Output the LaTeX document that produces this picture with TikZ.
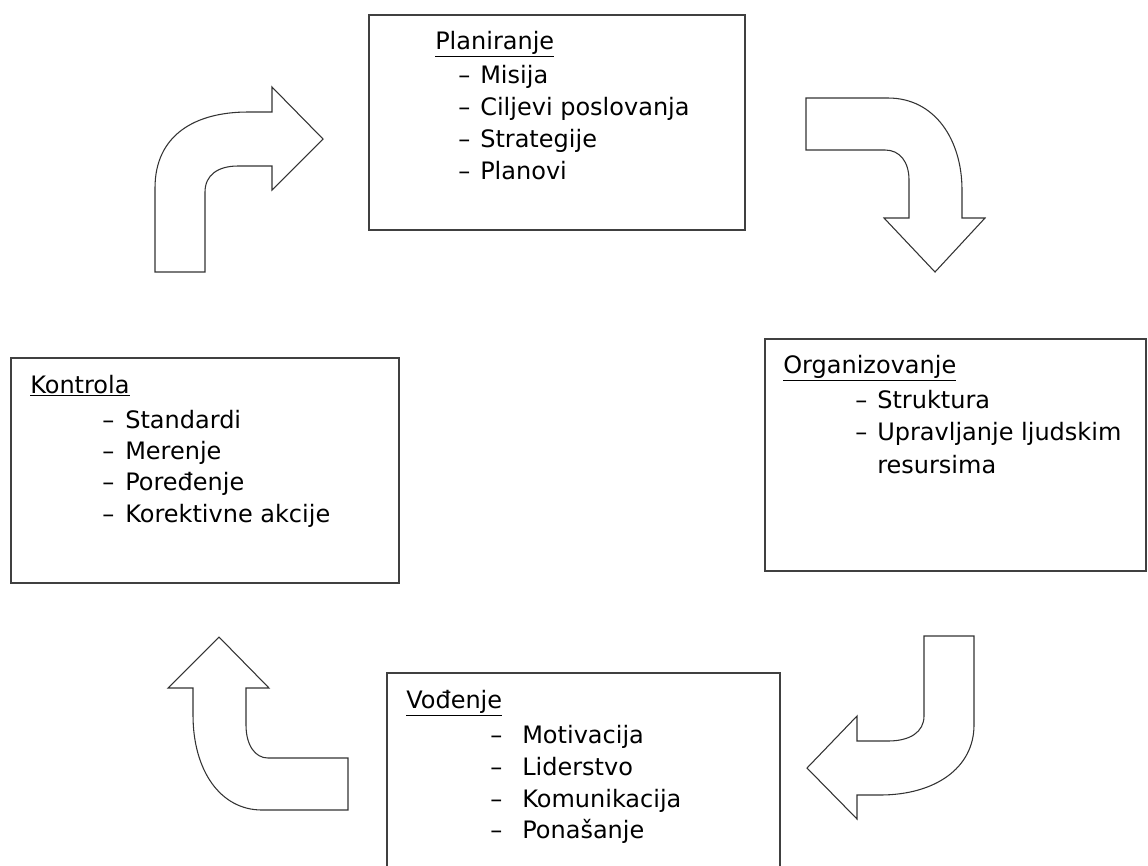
\documentclass[tikz,border=0pt]{standalone}
\usepackage{fontspec}
\setmainfont{DejaVu Sans}

\tikzset{
  box/.style={draw=black!75, line width=0.9pt},
  blockarrow/.style={draw=black!80, line width=0.8pt, fill=white, line join=miter},
  title/.style={anchor=base west, inner sep=0pt},
  item/.style={anchor=base west, inner sep=0pt},
}

\begin{document}
\begin{tikzpicture}[x=0.75pt,y=-0.75pt,font=\fontsize{18}{22}\selectfont]
		\useasboundingbox (0,0) rectangle (1148,865);

		%boxes
		\draw[box] (369,15) rectangle (745,230);
		\draw[box] (11,358) rectangle (399,583);
		\draw[box] (765,339) rectangle (1146,571);
		\draw[box] (387,866) -- (387,673) -- (780,673) -- (780,866);

		%planiranje
		\node[title] (plan) at (435,49) {\underline{Planiranje}};
		\foreach \t/\y [count=\i] in {Misija/83, Ciljevi poslovanja/115, Strategije/147, Planovi/179} {
			\node[item] (plan-d\i) at (458,\y) {--};
			\node[item] (plan-\i) at (480,\y) {\t};
		}

		%organizovanje
		\node[title] (org) at (783,373) {\underline{Organizovanje}};
		\node[item] (org-d1) at (855,408) {--};
		\node[item] (org-1) at (877,408) {Struktura};
		\node[item] (org-d2) at (855,440) {--};
		\node[item] (org-2) at (877,440) {Upravljanje ljudskim};
		\node[item] (org-3) at (877,473) {resursima};

		%vodjenje
		\node[title] (vod) at (406,708) {\underline{Vođenje}};
		\foreach \t/\y [count=\i] in {Motivacija/743, Liderstvo/775, Komunikacija/807, Ponašanje/838} {
			\node[item] (vod-d\i) at (490,\y) {--};
			\node[item] (vod-\i) at (522,\y) {\t};
		}

		%kontrola
		\node[title] (kon) at (30,393) {\underline{Kontrola}};
		\foreach \t/\y [count=\i] in {Standardi/428, Merenje/459, Poređenje/490, Korektivne akcije/522} {
			\node[item] (kon-d\i) at (102,\y) {--};
			\node[item] (kon-\i) at (125,\y) {\t};
		}

		%arrows
		\draw[blockarrow] (155,272) -- (155,188) .. controls (155,135) and (195,112) .. (248,112) -- (272,112) -- (272,87)
			-- (323,139) -- (272,190) -- (272,166) -- (238,166) .. controls (218,166) and (205,175) .. (205,192) -- (205,272) -- cycle;
		\draw[blockarrow] (806,98) -- (888,98) .. controls (935,98) and (962,140) .. (962,190) -- (962,218) -- (985,218)
			-- (935,272) -- (884,218) -- (909,218) -- (909,180) .. controls (909,162) and (900,150) .. (885,150) -- (806,150) -- cycle;
		\draw[blockarrow] (924,636) -- (974,636) -- (974,725) .. controls (974,768) and (935,795) .. (880,795) -- (857,795) -- (857,819)
			-- (807,768) -- (857,716) -- (857,741) -- (888,741) .. controls (910,741) and (924,732) .. (924,716) -- cycle;
		\draw[blockarrow] (348,758) -- (348,810) -- (262,810) .. controls (220,810) and (193,770) .. (193,715) -- (193,688) -- (168,688)
			-- (219,637) -- (269,688) -- (246,688) -- (246,725) .. controls (246,745) and (255,758) .. (268,758) -- cycle;

		\end{tikzpicture}
\end{document}
